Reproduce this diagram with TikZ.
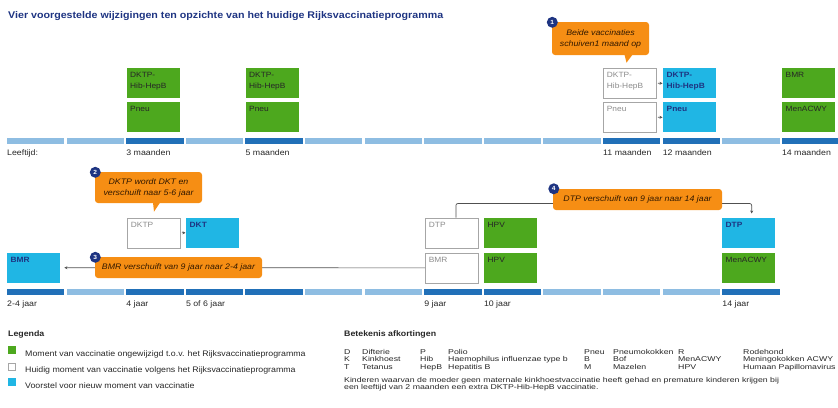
\documentclass[tikz,border=0pt]{standalone}
\usepackage{fontspec}
\setmainfont{Liberation Sans}[FakeStretch=1.1]
\newfontfamily\afkfont{Liberation Sans}[FakeStretch=1.25]
\usetikzlibrary{arrows.meta,calc}

\definecolor{groen}{RGB}{77,168,30}
\definecolor{blauw}{RGB}{32,182,228}
\definecolor{oranje}{RGB}{246,142,20}
\definecolor{donker}{RGB}{33,112,184}
\definecolor{licht}{RGB}{142,189,226}
\definecolor{navy}{RGB}{30,52,130}
\definecolor{lijn}{RGB}{80,80,80}

\begin{document}
\begin{tikzpicture}[x=1pt, y=-1pt,
    every node/.style={font=\fontsize{8}{10}\selectfont, text=black!85},
    vak/.style={anchor=north west, inner sep=3.5pt, text width=46pt, align=left,
        text height=6pt, text depth=17pt, font=\fontsize{7.6}{11}\selectfont},
    oud/.style={vak, draw=black!35, fill=white, text=black!45, line width=0.8pt},
    gelijk/.style={vak, fill=groen, text=black!85},
    nieuw/.style={vak, fill=blauw, text=navy, font=\bfseries\fontsize{7.6}{11}\selectfont},
    ballon/.style={fill=oranje, rounded corners=3pt, align=center, inner sep=2pt,
        font=\itshape\fontsize{8}{11}\selectfont, text=black!80!orange},
    nummer/.style={circle, fill=navy, text=white, minimum size=11pt, inner sep=0pt,
        font=\bfseries\fontsize{6}{6}\selectfont},
    tijd/.style={anchor=base west, inner sep=0pt},
    afk/.style={anchor=base west, inner sep=0pt, font=\afkfont\fontsize{7}{8}\selectfont},
    pijl/.style={-{Stealth[length=3pt,width=3pt]}, draw=lijn, line width=0.7pt}
]
\useasboundingbox (0,0) rectangle (838,407);

\node[anchor=base west, inner sep=0pt, text=navy, font=\bfseries\fontsize{9.7}{11}\selectfont] (titel) at (8,18.5)
    {Vier voorgestelde wijzigingen ten opzichte van het huidige Rijksvaccinatieprogramma};

% Tijdlijn boven
\foreach \k in {0,...,13} \fill[licht] (7+59.6*\k,138) rectangle ++(57.4,5.5);
\foreach \k in {2,4,10,11,13} \fill[donker] (7+59.6*\k,138) rectangle ++(57.4,5.5);
\node[tijd] (leeftijd) at (7,155) {Leeftijd:};
\foreach \k/\t in {2/3 maanden, 4/5 maanden, 10/11 maanden, 11/12 maanden, 13/14 maanden}
    \node[tijd] (m\k) at (7+59.6*\k,155) {\t};

\node[gelijk] (g3a) at (126.5,68) {DKTP-\\Hib-HepB};
\node[gelijk] (g3b) at (126.5,102) {Pneu};
\node[gelijk] (g5a) at (245.5,68) {DKTP-\\Hib-HepB};
\node[gelijk] (g5b) at (245.5,102) {Pneu};
\node[oud] (o11a) at (603,68) {DKTP-\\Hib-HepB};
\node[oud] (o11b) at (603,102) {Pneu};
\node[nieuw] (n12a) at (663,68) {DKTP-\\Hib-HepB};
\node[nieuw] (n12b) at (663,102) {Pneu};
\node[gelijk] (g14a) at (782,68) {BMR};
\node[gelijk] (g14b) at (782,102) {MenACWY};
\draw[pijl, shorten <=1pt, shorten >=0.5pt] (o11a) -- (n12a);
\draw[pijl, shorten <=1pt, shorten >=0.5pt] (o11b) -- (n12b);

\node[ballon, minimum width=97pt, minimum height=33pt] (b1) at (600.5,38.5) {Beide vaccinaties\\schuiven1 maand op};
\fill[oranje] ($(b1.south)+(24,-0.5)$) -- ++(8,0) -- ++(-6,8) -- cycle;
\node[nummer] (c1) at ($(b1.north west)+(0.5,0.5)$) {1};

% Tijdlijn onder
\foreach \k in {0,...,12} \fill[licht] (7+59.6*\k,289) rectangle ++(57.4,5.5);
\foreach \k in {0,2,3,4,7,8,12} \fill[donker] (7+59.6*\k,289) rectangle ++(57.4,5.5);
\foreach \k/\t in {0/2-4 jaar, 2/4 jaar, 3/5 of 6 jaar, 7/9 jaar, 8/10 jaar, 12/14 jaar}
    \node[tijd] (j\k) at (7+59.6*\k,306) {\t};

\node[oud] (o4) at (127,217.5) {DKTP};
\node[nieuw] (n5) at (186,217.5) {DKT};
\node[nieuw] (n24) at (7,252.5) {BMR};
\node[oud] (o9a) at (425,217.5) {DTP};
\node[oud] (o9b) at (425,252.5) {BMR};
\node[gelijk] (g10a) at (484,217.5) {HPV};
\node[gelijk] (g10b) at (484,252.5) {HPV};
\node[nieuw] (n14) at (722,217.5) {DTP};
\node[gelijk] (g14) at (722,252.5) {MenACWY};
\draw[pijl, shorten <=1pt, shorten >=0.5pt] (o4) -- (n5);
\draw[pijl, shorten >=4pt] (o9b) -- (n24);
\draw[pijl, rounded corners=2pt, shorten >=4pt] ([xshift=4pt]o9a.north) -- ++(0,-14) -| ([xshift=3pt]n14.north);

\node[ballon, minimum width=107pt, minimum height=31pt] (b2) at (148.5,187.5) {DKTP wordt DKT en\\verschuift naar 5-6 jaar};
\fill[oranje] ($(b2.south)+(4.5,-0.5)$) -- ++(7,0) -- ++(-6,9) -- cycle;
\node[nummer] (c2) at ($(b2.north west)+(0.5,0.5)$) {2};
\node[ballon, minimum width=167pt, minimum height=21pt] (b3) at (178.5,267.5) {BMR verschuift van 9 jaar naar 2-4 jaar};
\node[nummer] (c3) at ($(b3.north west)+(0.5,0.5)$) {3};
\node[ballon, minimum width=169pt, minimum height=21pt] (b4) at (637.5,199.5) {DTP verschuift van 9 jaar naar 14 jaar};
\node[nummer] (c4) at ($(b4.north west)+(1,0)$) {4};

% Legenda
\node[anchor=base west, inner sep=0pt, font=\bfseries\fontsize{8}{10}\selectfont] (legenda) at (8,336) {Legenda};
\node[fill=groen, minimum size=7.5pt, inner sep=0pt, anchor=north west] (kg) at (8,346) {};
\node[draw=black!35, fill=white, minimum size=7pt, inner sep=0pt, anchor=north west] (ko) at (8.3,362.5) {};
\node[fill=blauw, minimum size=7.5pt, inner sep=0pt, anchor=north west] (kn) at (8,378) {};
\node[anchor=base west, inner sep=0pt] (tg) at (25,356) {Moment van vaccinatie ongewijzigd t.o.v. het Rijksvaccinatieprogramma};
\node[anchor=base west, inner sep=0pt] (to) at (25,372) {Huidig moment van vaccinatie volgens het Rijksvaccinatieprogramma};
\node[anchor=base west, inner sep=0pt] (tn) at (25,388) {Voorstel voor nieuw moment van vaccinatie};

% Afkortingen
\node[anchor=base west, inner sep=0pt, font=\bfseries\fontsize{8}{10}\selectfont] (betekenis) at (344,336) {Betekenis afkortingen};
\foreach \x/\a/\b/\c in {344/D/K/T, 362/Difterie/Kinkhoest/Tetanus, 420/P/Hib/HepB,
    448/Polio/Haemophilus influenzae type b/Hepatitis B, 584/Pneu/B/M, 613/Pneumokokken/Bof/Mazelen,
    678/R/MenACWY/HPV, 743/Rodehond/Meningokokken ACWY/Humaan Papillomavirus} {
  \node[afk] (a\x-1) at (\x,354) {\a};
  \node[afk] (a\x-2) at (\x,361.5) {\b};
  \node[afk] (a\x-3) at (\x,369) {\c};
}
\node[afk] (noot1) at (344,382) {Kinderen waarvan de moeder geen maternale kinkhoestvaccinatie heeft gehad en premature kinderen krijgen bij};
\node[afk] (noot2) at (344,389.5) {een leeftijd van 2 maanden een extra DKTP-Hib-HepB vaccinatie.};
\end{tikzpicture}
\end{document}
